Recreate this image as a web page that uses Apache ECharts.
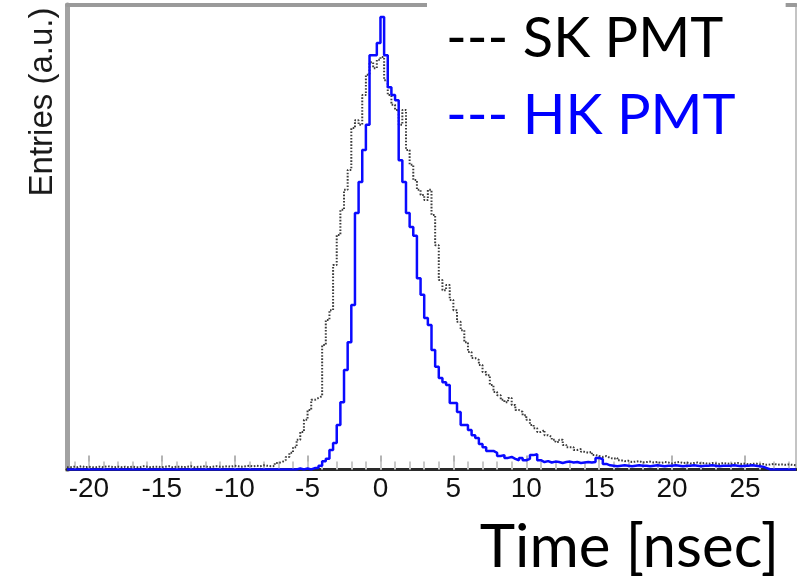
<!DOCTYPE html>
<html>
<head>
<meta charset="utf-8">
<script src="https://cdn.jsdelivr.net/npm/echarts@6/dist/echarts.min.js"></script>
<style>
  html, body { margin: 0; padding: 0; background: #fff; }
  #chart { width: 797px; height: 581px; }
</style>
</head>
<body>
<div id="chart"></div>
<script>
// Timing histograms, 0.25 ns bins starting at -21.5 ns (arbitrary units, peak ~100)
const binStart = -21.5;
const binWidth = 0.25;

const skCounts = [
  0.5, 0.6, 0.5, 0.7, 0.5, 0.6, 0.5, 0.5,
  0.6, 0.5, 0.7, 0.6, 0.5, 0.6, 0.5, 0.6,
  0.5, 0.6, 0.5, 0.5, 0.7, 0.6, 0.5, 0.6,
  0.6, 0.5, 0.6, 0.7, 0.5, 0.6, 0.6, 0.5,
  0.6, 0.7, 0.5, 0.6, 0.6, 0.7, 0.5, 0.6,
  0.7, 0.6, 0.6, 0.7, 0.6, 0.8, 0.7, 0.6,
  0.7, 0.8, 0.7, 0.8, 0.7, 0.9, 0.8, 0.7,
  0.75, 1.4, 1.6, 2.0, 2.7, 3.6, 4.8, 6.4,
  8.1, 10.7, 12.8, 15.0, 15.4, 15.8, 26.8, 32.2,
  34.3, 44.0, 50.5, 55.9, 60.2, 64.5, 73.5, 75.2,
  74.2, 80.6, 85.0, 87.7, 86.4, 88.2, 88.8, 83.8,
  80.6, 78.5, 77.4, 74.2, 77.4, 68.8, 65.6, 62.3,
  60.2, 59.1, 58.0, 60.2, 54.8, 48.3, 40.8, 38.6,
  39.7, 36.5, 34.3, 31.8, 30.0, 27.4, 25.3, 24.0,
  23.6, 22.5, 21.0, 20.3, 18.2, 16.7, 16.0, 15.0,
  14.5, 15.4, 13.9, 12.8, 12.4, 11.7, 10.7, 9.6,
  8.9, 8.1, 8.5, 7.4, 7.0, 6.4, 5.9, 6.4,
  5.3, 4.8, 4.8, 4.2, 4.4, 3.8, 3.6, 3.8,
  3.1, 2.9, 2.7, 2.9, 2.5, 2.3, 2.5, 2.0,
  1.8, 1.9, 1.6, 1.7, 1.8, 1.5, 1.6, 1.7,
  1.5, 1.6, 1.4, 1.6, 1.5, 1.3, 1.5, 1.6,
  1.4, 1.5, 1.3, 1.4, 1.5, 1.3, 1.4, 1.2,
  1.4, 1.3, 1.2, 1.4, 1.3, 1.2, 1.3, 1.4,
  1.2, 1.3, 1.1, 1.2, 1.3, 1.1, 1.2, 1.0,
  1.1, 1.2, 1.0, 1.1, 1.0, 1.1, 1.0, 0.9
];

const hkCounts = [
  0, 0, 0, 0, 0, 0, 0, 0,
  0, 0, 0, 0, 0, 0, 0, 0,
  0, 0, 0, 0, 0, 0, 0, 0,
  0, 0, 0, 0, 0, 0, 0, 0,
  0, 0, 0, 0, 0, 0, 0, 0,
  0, 0, 0, 0, 0, 0, 0, 0,
  0, 0, 0, 0, 0, 0, 0, 0,
  0, 0, 0, 0, 0, 0, 0, 0.2,
  0, 0.2, 0, 0.3, 0.3, 0.8, 1.8, 2.3,
  4.2, 5.7, 9.6, 14.5, 21.4, 27.4, 35.4, 55.2,
  61.9, 68.8, 74.2, 89.2, 89.2, 91.8, 97.4, 89.2,
  82.3, 80.6, 79.5, 66.6, 61.9, 55.2, 52.2, 50.3,
  41.2, 37.6, 32.6, 31.1, 25.7, 22.1, 19.7, 18.8,
  18.2, 14.3, 14.3, 12.4, 9.6, 9.6, 8.5, 7.4,
  6.8, 5.5, 4.8, 4.0, 4.0, 3.6, 2.9, 3.1,
  2.5, 2.7, 2.3, 2.0, 2.5, 2.0, 2.3, 3.1,
  3.3, 2.0, 1.6, 1.8, 1.5, 1.7, 1.6, 1.4,
  1.6, 1.7, 1.5, 1.6, 1.4, 1.5, 1.6, 1.5,
  1.6, 2.5, 2.2, 1.2, 0.9, 0.8, 0.7, 0.8,
  0.9, 0.8, 0.7, 0.8, 0.9, 0.8, 0.8, 0.7,
  0.8, 0.9, 0.8, 0.7, 0.8, 0.8, 0.9, 0.8,
  0.7, 0.8, 0.8, 0.9, 0.8, 0.7, 0.8, 0.8,
  0.9, 0.8, 0.7, 0.8, 0.8, 0.8, 0.9, 0.8,
  0.7, 0.8, 0.8, 0.9, 0.8, 0.7, 0.6, 0.3,
  0, 0, 0, 0, 0, 0, 0, 0
];

const xMin = -21.5;
const xMax = 28.5;
const majorTicks = [-20, -15, -10, -5, 0, 5, 10, 15, 20, 25];
const minorTicks = [];
for (let t = -21; t <= 28; t++) minorTicks.push(t);

const seriesNames = ['SK PMT', 'HK PMT'];
const xTitle = 'Time [nsec]';
const yTitle = 'Entries (a.u.)';

// Turn bin contents into step-line points (bin low edge, content), closing the last bin
function toSteps(counts) {
  const pts = counts.map((c, i) => [binStart + i * binWidth, c]);
  pts.push([binStart + counts.length * binWidth, counts[counts.length - 1]]);
  return pts;
}

const chart = echarts.init(document.getElementById('chart'), null, { renderer: 'canvas' });

const hiddenAxis = {
  axisTick: { show: false },
  axisLabel: { show: false },
  splitLine: { show: false }
};

chart.setOption({
  animation: false,
  backgroundColor: '#ffffff',
  grid: { left: 67, right: 1, top: 5, bottom: 111.5, containLabel: false },
  xAxis: [
    {
      type: 'value', min: xMin, max: xMax, position: 'bottom',
      axisLine: { show: true, onZero: false, lineStyle: { color: '#2a2a2a', width: 3 } },
      axisTick: { show: true, inside: true, length: 14, customValues: majorTicks,
        lineStyle: { color: '#b4b4b4', width: 2 } },
      axisLabel: { show: true, customValues: majorTicks, margin: 6,
        fontFamily: '"Liberation Sans", Arial, sans-serif', fontSize: 28, color: '#111' },
      splitLine: { show: false }
    },
    {
      type: 'value', min: xMin, max: xMax, position: 'bottom',
      axisLine: { show: false, onZero: false },
      axisTick: { show: true, inside: true, length: 8, customValues: minorTicks,
        lineStyle: { color: '#c8c8c8', width: 2 } },
      axisLabel: { show: false },
      splitLine: { show: false }
    },
    Object.assign({
      type: 'value', min: xMin, max: xMax, position: 'top',
      axisLine: { show: true, onZero: false, lineStyle: { color: '#9a9a9a', width: 4 } }
    }, hiddenAxis)
  ],
  yAxis: [
    Object.assign({
      type: 'value', min: 0, max: 100, position: 'left',
      axisLine: { show: true, onZero: false, lineStyle: { color: '#a2a2a2', width: 5 } }
    }, hiddenAxis),
    Object.assign({
      type: 'value', min: 0, max: 100, position: 'right',
      axisLine: { show: true, onZero: false, lineStyle: { color: '#c4c4c4', width: 2 } }
    }, hiddenAxis)
  ],
  legend: {
    orient: 'vertical',
    left: 427, top: 0,
    padding: [0, 50, 20, 13],
    backgroundColor: '#ffffff',
    itemWidth: 0, itemHeight: 0, itemGap: 0,
    selectedMode: false,
    formatter: '--- {name}',
    textStyle: { fontFamily: 'Lato, "Open Sans", sans-serif', fontSize: 56, lineHeight: 77 },
    data: [
      { name: seriesNames[0], textStyle: { color: '#000000' } },
      { name: seriesNames[1], textStyle: { color: '#0000ff' } }
    ]
  },
  series: [
    {
      name: seriesNames[0], type: 'line', step: 'end', symbol: 'none',
      xAxisIndex: 0, yAxisIndex: 0, z: 2,
      itemStyle: { color: '#000000' },
      lineStyle: { color: '#3c3c3c', width: 2, type: [1.6, 1.6] },
      data: toSteps(skCounts)
    },
    {
      name: seriesNames[1], type: 'line', step: 'end', symbol: 'none',
      xAxisIndex: 0, yAxisIndex: 0, z: 3,
      itemStyle: { color: '#0000ff' },
      lineStyle: { color: '#0a0aff', width: 2.5 },
      data: toSteps(hkCounts)
    }
  ],
  graphic: [
    {
      type: 'text', x: 43, y: 102, rotation: Math.PI / 2,
      style: { text: yTitle, font: '33px "Liberation Sans", Arial, sans-serif', fill: '#1a1a1a',
        align: 'center', verticalAlign: 'middle', textAlign: 'center', textVerticalAlign: 'middle' }
    },
    {
      type: 'text', x: 779, y: 548,
      style: { text: xTitle, font: '60px Lato, "Open Sans", sans-serif', fill: '#000',
        align: 'right', verticalAlign: 'middle', textAlign: 'right', textVerticalAlign: 'middle' }
    }
  ]
});
</script>
</body>
</html>
